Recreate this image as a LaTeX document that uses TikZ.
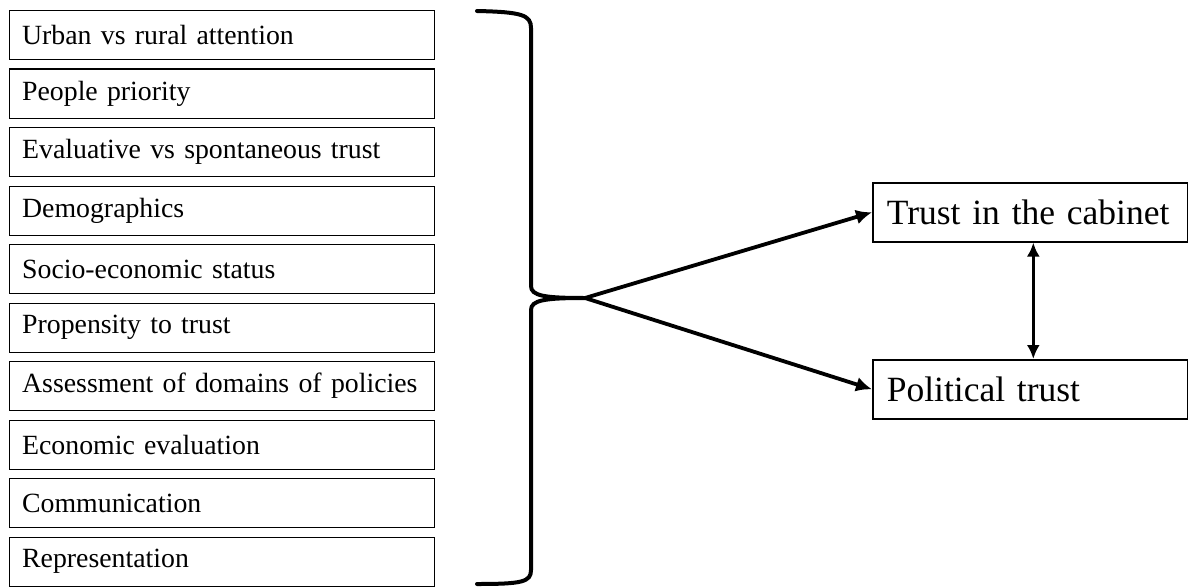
\documentclass[tikz,border=0pt]{standalone}
\usepackage{fontspec}
\setmainfont{Liberation Serif}
\usetikzlibrary{positioning, arrows.meta}

\tikzset{
  factor/.style={draw, line width=1.3pt, minimum width=425pt, minimum height=49pt,
    inner sep=0pt, text width=400pt, align=left, font=\fontsize{27.8}{33}\selectfont},
  outcome/.style={draw, line width=1.6pt, minimum width=315pt, minimum height=59pt,
    inner sep=0pt, text width=287pt, align=left, font=\fontsize{35.5}{42}\selectfont},
  brace/.style={line width=4pt, line cap=round},
  arr/.style={line width=3.8pt, -{Latex[length=16pt, width=15pt]}},
  dblarr/.style={line width=2.8pt, {Latex[length=14pt, width=13pt]}-{Latex[length=14pt, width=13pt]}}
}

\begin{document}
\begin{tikzpicture}[x=1pt, y=-1pt, node distance=8.2pt]
\useasboundingbox (0,0) rectangle (1188,586);

% factors on the left
\node[factor, anchor=north west] (urban) at (9,10) {Urban vs rural attention};
\node[factor, below=of urban]    (people)    {People priority};
\node[factor, below=of people]   (evaltrust) {Evaluative vs spontaneous trust};
\node[factor, below=of evaltrust] (demog)    {Demographics};
\node[factor, below=of demog]    (ses)       {Socio-economic status};
\node[factor, below=of ses]      (propens)   {Propensity to trust};
\node[factor, below=of propens]  (domains)   {Assessment of domains of policies};
\node[factor, below=of domains]  (econ)      {Economic evaluation};
\node[factor, below=of econ]     (comm)      {Communication};
\node[factor, below=of comm]     (repr)      {Representation};

% brace
\coordinate (b-top) at (477,11);
\coordinate (b-tip) at (585,298);
\coordinate (b-bot) at (477,584);
\draw[brace] (b-top) .. controls (522,12) and (531,15) .. (531,28)
  -- (531,286) .. controls (531,296) and (545,298) .. (b-tip)
  .. controls (545,298) and (531,300) .. (531,310)
  -- (531,570) .. controls (531,582) and (522,584) .. (b-bot);

% outcomes
\node[outcome, anchor=north west] (cab) at (872,182) {Trust in the cabinet};
\node[outcome, anchor=north west] (pol) at (872,359) {Political trust};

\draw[arr] (b-tip) -- (cab.west);
\draw[arr] (b-tip) -- (pol.west);
\draw[dblarr] ([xshift=3pt]cab.south) -- ([xshift=3pt]pol.north);

\end{tikzpicture}
\end{document}
